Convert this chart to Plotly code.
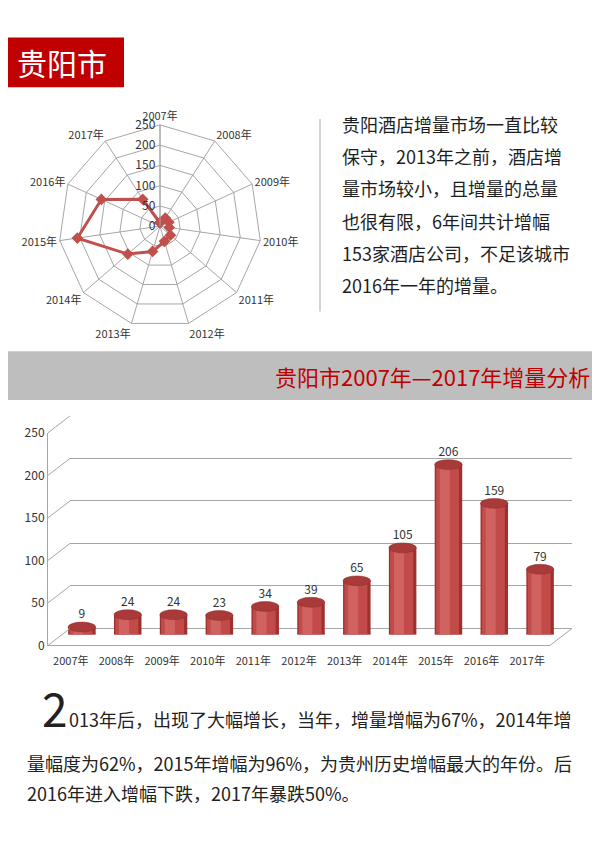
import plotly.graph_objects as go

# data
years = ["2007年", "2008年", "2009年", "2010年", "2011年", "2012年",
         "2013年", "2014年", "2015年", "2016年", "2017年"]
added = [9, 24, 24, 23, 34, 39, 65, 105, 206, 159, 79]
y_ticks = [0, 50, 100, 150, 200, 250]

intro_lines = [
    "贵阳酒店增量市场一直比较",
    "保守，2013年之前，酒店增",
    "量市场较小，且增量的总量",
    "也很有限，6年间共计增幅",
    "153家酒店公司，不足该城市",
    "2016年一年的增量。",
]
para_lines = [
    "013年后，出现了大幅增长，当年，增量增幅为67%，2014年增",
    "量幅度为62%，2015年增幅为96%，为贵州历史增幅最大的年份。后",
    "2016年进入增幅下跌，2017年暴跌50%。",
]

W, H = 600, 866
OFF = 8  # page body margin, positions below are page pixels
FONT = "Noto Sans CJK SC"
RED = "#C0504D"
GRID = "#A6A6A6"


def px(x):
    return (x - OFF) / W


def py(y):
    # small empirical correction measured against the screenshot
    y = (y - 8.5) / 0.987
    return 1 - (y - OFF) / H


fig = go.Figure()

# ---- radar ----
fig.add_trace(go.Scatterpolar(
    r=added + added[:1],
    theta=years + years[:1],
    mode="lines+markers",
    line=dict(color=RED, width=3),
    marker=dict(symbol="diamond", size=9, color=RED),
    showlegend=False,
    hoverinfo="skip",
))

# ---- 3d-ish bar chart ----
idx = list(range(len(years)))
# back wall, only used for its gridlines
fig.add_trace(go.Scatter(x=[0], y=[0], xaxis="x2", yaxis="y2", mode="markers",
                         marker=dict(opacity=0), showlegend=False, hoverinfo="skip"))
# front axes carry the tick labels
fig.add_trace(go.Scatter(x=[0], y=[0], xaxis="x", yaxis="y", mode="markers",
                         marker=dict(opacity=0), showlegend=False, hoverinfo="skip"))

# cylinder body: layered bars for a bit of shading
for w, off, col in [(0.6, -0.3, "#9E302E"), (0.5, -0.27, "#C24B49"),
                    (0.22, -0.19, "#D0625F")]:
    fig.add_trace(go.Bar(x=idx, y=added, width=w, offset=off, xaxis="x3", yaxis="y3",
                         marker=dict(color=col, line=dict(width=0)),
                         showlegend=False, hoverinfo="skip"))

ell = 6  # ellipse half height in data units
fig.add_trace(go.Scatter(
    x=idx, y=[v + ell + 1 for v in added], xaxis="x3", yaxis="y3",
    mode="text", text=[str(v) for v in added], textposition="top center",
    textfont=dict(family=FONT, size=12, color="#333"),
    showlegend=False, hoverinfo="skip",
))

shapes = []
for i, v in zip(idx, added):
    shapes.append(dict(type="circle", xref="x3", yref="y3", layer="below",
                       x0=i - 0.3, x1=i + 0.3, y0=-ell, y1=ell,
                       fillcolor="#9E302E", line=dict(width=0)))
    shapes.append(dict(type="circle", xref="x3", yref="y3",
                       x0=i - 0.3, x1=i + 0.3, y0=v - ell, y1=v + ell,
                       fillcolor="#A83B39", line=dict(color="#93292A", width=0.5)))

# perspective edges of the box
front_y0, front_y1 = 648, 434
depth_dx, depth_dy = 22, 17
for t in y_ticks:
    yy = front_y0 - (front_y0 - front_y1) * t / 250
    shapes.append(dict(type="line", xref="paper", yref="paper",
                       x0=px(48), y0=py(yy), x1=px(48 + depth_dx), y1=py(yy - depth_dy),
                       line=dict(color=GRID, width=1)))
shapes.append(dict(type="line", xref="paper", yref="paper",
                   x0=px(550), y0=py(648), x1=px(550 + depth_dx), y1=py(648 - depth_dy),
                   line=dict(color=GRID, width=1)))

# ---- page decoration ----
shapes.append(dict(type="rect", xref="paper", yref="paper", layer="below",
                   x0=0, x1=px(124), y0=py(86), y1=py(36),
                   fillcolor="#C00000", line=dict(width=0)))
shapes.append(dict(type="rect", xref="paper", yref="paper", layer="below",
                   x0=0, x1=1, y0=py(401), y1=py(352),
                   fillcolor="#BFBEBF", line=dict(width=0)))
shapes.append(dict(type="line", xref="paper", yref="paper",
                   x0=px(320), x1=px(320), y0=py(312), y1=py(118),
                   line=dict(color="#D4D4D4", width=2)))

annotations = [
    dict(text="贵阳市", x=px(62), y=py(61), font=dict(size=30, color="white")),
    dict(text="贵阳市2007年—2017年增量分析", x=px(592), y=py(377), xanchor="right",
         font=dict(size=22, color="#C00000")),
    dict(text="2", x=px(40), y=py(710), xanchor="left",
         font=dict(size=46, color="#222")),
]
for k, line in enumerate(intro_lines):
    annotations.append(dict(text=line, x=px(340), y=py(123 + 32.5 * k), xanchor="left",
                            font=dict(size=18, color="#1E1E1E")))
for (x0, y0), line in zip([(67, 722), (25, 766), (25, 797)], para_lines):
    annotations.append(dict(text=line, x=px(x0), y=py(y0), xanchor="left",
                            font=dict(size=18, color="#222")))
for a in annotations:
    a.update(xref="paper", yref="paper", showarrow=False, yanchor="middle")
    a.setdefault("xanchor", "center")
    a["font"].setdefault("family", FONT)

tick_font = dict(family=FONT, size=11, color="#333")
fig.update_layout(
    width=W, height=H, margin=dict(l=0, r=0, t=0, b=0),
    paper_bgcolor="white", plot_bgcolor="rgba(0,0,0,0)",
    barmode="overlay", showlegend=False,
    font=dict(family=FONT, color="#333"),
    polar=dict(
        domain=dict(x=[px(58), px(262)], y=[py(328), py(124)]),
        gridshape="linear",
        bgcolor="white",
        angularaxis=dict(rotation=90, direction="clockwise", linecolor=GRID,
                         gridcolor=GRID, ticks="", tickfont=tick_font),
        radialaxis=dict(range=[0, 250], tickvals=y_ticks, angle=90, tickangle=90,
                        side="counterclockwise", gridcolor=GRID, linecolor=GRID,
                        ticks="", tickfont=dict(family=FONT, size=12, color="#333")),
    ),
    xaxis=dict(domain=[px(48), px(550)], range=[-0.5, 10.5], tickvals=idx,
               ticktext=years, showline=True, linecolor=GRID, showgrid=False,
               zeroline=False, ticks="", ticklabelstandoff=5, tickfont=tick_font,
               anchor="y", fixedrange=True),
    yaxis=dict(domain=[py(648), py(434)], range=[0, 250], tickvals=y_ticks,
               showline=True, linecolor=GRID, showgrid=False, zeroline=False,
               ticks="", tickfont=dict(family=FONT, size=12, color="#333"),
               anchor="x"),
    xaxis2=dict(domain=[px(70), px(572)], range=[-0.5, 10.5], visible=False,
                anchor="y2"),
    yaxis2=dict(domain=[py(631), py(417)], range=[0, 250], tickvals=y_ticks,
                showgrid=True, gridcolor=GRID, showticklabels=False,
                zeroline=True, zerolinecolor=GRID, zerolinewidth=1,
                showline=False, ticks="", anchor="x2"),
    xaxis3=dict(domain=[px(59), px(563)], range=[-0.5, 10.5], visible=False,
                anchor="y3"),
    yaxis3=dict(domain=[py(637), py(429.5)], range=[0, 250], visible=False,
                anchor="x3"),
    shapes=shapes,
    annotations=annotations,
)

fig.write_html("out.html")
